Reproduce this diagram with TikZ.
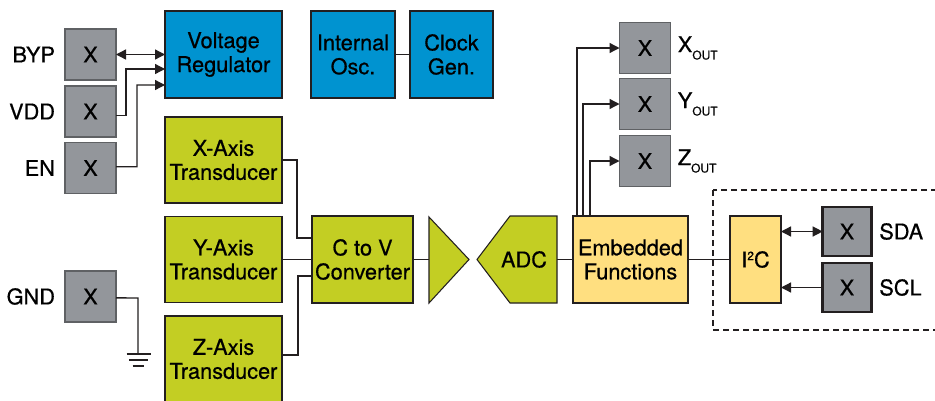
\documentclass[tikz,border=0pt]{standalone}
\usepackage{fontspec}
\setmainfont{TeX Gyre Heros}[FakeBold=0.6]
\usetikzlibrary{arrows.meta,calc}
\definecolor{pingray}{RGB}{147,150,155}
\definecolor{pinedge}{RGB}{95,97,100}
\definecolor{blk}{RGB}{0,147,208}
\definecolor{grn}{RGB}{195,206,35}
\definecolor{ylw}{RGB}{255,223,128}
\definecolor{ink}{RGB}{35,31,32}
\newcommand\subout[1]{#1\raisebox{-5.5pt}{\fontsize{9}{9}\selectfont OUT}}
\begin{document}
\begin{tikzpicture}[x=0.75pt,y=-0.75pt,
  font=\fontsize{16.3}{18}\selectfont,
  base/.style={draw=ink,line width=0.8pt,inner sep=0pt,outer sep=0pt,align=center},
  pin/.style={base,fill=pingray,draw=pinedge,minimum width=38.25pt,minimum height=38.25pt},
  bpin/.style={pin,draw=ink,line width=1.8pt,minimum width=36.5pt,minimum height=36.5pt},
  blue/.style={base,fill=blk,minimum height=65.25pt},
  green/.style={base,fill=grn,minimum height=64.5pt},
  yel/.style={base,fill=ylw,minimum height=65.25pt},
  lab/.style={inner sep=0pt,outer sep=0pt},
  wire/.style={draw=ink,line width=1pt},
  tip/.style={-{Triangle[length=7.5pt,width=7.5pt]}},
  dtip/.style={{Triangle[length=7.5pt,width=7.5pt]}-{Triangle[length=7.5pt,width=7.5pt]}}
]
\useasboundingbox (0,0) rectangle (935,400);
\clip (0,0) rectangle (935,400);
\fill[white] (0,0) rectangle (935,400);

% pins left
\node[pin] (byp) at (90.5,54.5) {X};
\node[pin] (vdd) at (90.5,111.5) {X};
\node[pin] (en) at (90.5,168) {X};
\node[pin] (gnd) at (90.5,296.5) {X};
\node[lab,anchor=east] (lbyp) at ([xshift=-7.5pt]byp.west) {BYP};
\node[lab,anchor=east] (lvdd) at ([xshift=-7.5pt]vdd.west) {VDD};
\node[lab,anchor=east] (len) at ([xshift=-7.5pt]en.west) {EN};
\node[lab,anchor=east] (lgnd) at ([xshift=-7.5pt]gnd.west) {GND};

% blue blocks
\node[blue,minimum width=87.75pt] (vreg) at (223.5,54.5) {Voltage\\Regulator};
\node[blue,minimum width=63pt] (osc) at (353,54.5) {Internal\\Osc.};
\node[blue,minimum width=62.25pt] (clk) at (451.5,54.5) {Clock\\Gen.};

% transducers
\node[green,minimum width=87.75pt] (xt) at (223.5,160) {X-Axis\\Transducer};
\node[green,minimum width=87.75pt] (yt) at (223.5,259.5) {Y-Axis\\Transducer};
\node[green,minimum width=87.75pt] (zt) at (223.5,359) {Z-Axis\\Transducer};
\node[green,minimum width=75.75pt,minimum height=65.25pt] (ctov) at (362.5,259.5) {C to V\\Converter};

% amplifier and ADC
\draw[base,fill=grn] (429,217) -- (469,259.5) -- (429,303) -- cycle;
\coordinate (ampL) at (429,259.5);
\draw[base,fill=grn] (510,216) -- (557,216) -- (557,303) -- (510,303) -- (477,259.5) -- cycle;
\node[lab] (adc) at (524,259.5) {ADC};
\coordinate (adcR) at (557,259.5);

% embedded and I2C
\node[yel,minimum width=86.25pt] (emb) at (630.5,259.5) {Embedded\\Functions};
\node[yel,minimum width=38.25pt] (i2c) at (755.5,259.5) {I\raisebox{5.5pt}{\fontsize{9}{9}\selectfont 2}C};

% output pins
\node[pin] (xout) at (645,48) {X};
\node[pin] (yout) at (645,104) {X};
\node[pin] (zout) at (645,161) {X};
\node[lab,anchor=west] (lx) at ([xshift=5.5pt]xout.east) {\subout{X}};
\node[lab,anchor=west] (ly) at ([xshift=5.5pt]yout.east) {\subout{Y}};
\node[lab,anchor=west] (lz) at ([xshift=5.5pt]zout.east) {\subout{Z}};

% I2C pins
\node[bpin] (sda) at (847,231.5) {X};
\node[bpin] (scl) at (847,287.5) {X};
\node[lab,anchor=west] (lsda) at ([xshift=6pt]sda.east) {SDA};
\node[lab,anchor=west] (lscl) at ([xshift=6pt]scl.east) {SCL};

% dashed region
\draw[ink,line width=1.1pt,dash pattern=on 4.5pt off 3pt] (713,190) rectangle (945,330);

% connectors
\draw[wire,dtip] (byp.east) -- (vreg.west);
\draw[wire,tip] ([yshift=-3pt]vdd.east) -- (126,115.5) |- ($(vreg.west)+(0,14.5)$);
\draw[wire,tip] ([yshift=1pt]en.east) -- (137,166.7) |- ($(vreg.west)+(0,30.5)$);
\draw[wire] (osc.east) -- (clk.west);

\draw[wire] ([yshift=-1pt]gnd.east) -- (138,298) -- (138,354) coordinate (gndp);
\draw[wire] ($(gndp)+(-11.5,0)$) -- ($(gndp)+(12.5,0)$);
\draw[wire] ($(gndp)+(-9,6)$) -- ($(gndp)+(10,6)$);
\draw[wire] ($(gndp)+(-5.5,12)$) -- ($(gndp)+(6,12)$);

\draw[wire] (xt.east) -- (297,160) |- ($(ctov.west)+(0,-21.5)$);
\draw[wire] (yt.east) -- (ctov.west);
\draw[wire] ($(zt.east)+(0,-4)$) -- (298,355) |- ($(ctov.west)+(0,16.5)$);
\draw[wire] (ctov.east) -- (ampL);
\draw[wire] (adcR) -- (emb.west);
\draw[wire] (emb.east) -- (i2c.west);

\draw[wire,tip] ($(emb.north west)+(4,0)$) |- (xout.west);
\draw[wire,tip] ($(emb.north west)+(10,0)$) |- (yout.west);
\draw[wire,tip] ($(emb.north west)+(17,0)$) |- (zout.west);

\draw[wire,dtip] (i2c.east |- sda.west) -- (sda.west);
\draw[wire,tip] (scl.west) -- (i2c.east |- scl.west);
\end{tikzpicture}
\end{document}
